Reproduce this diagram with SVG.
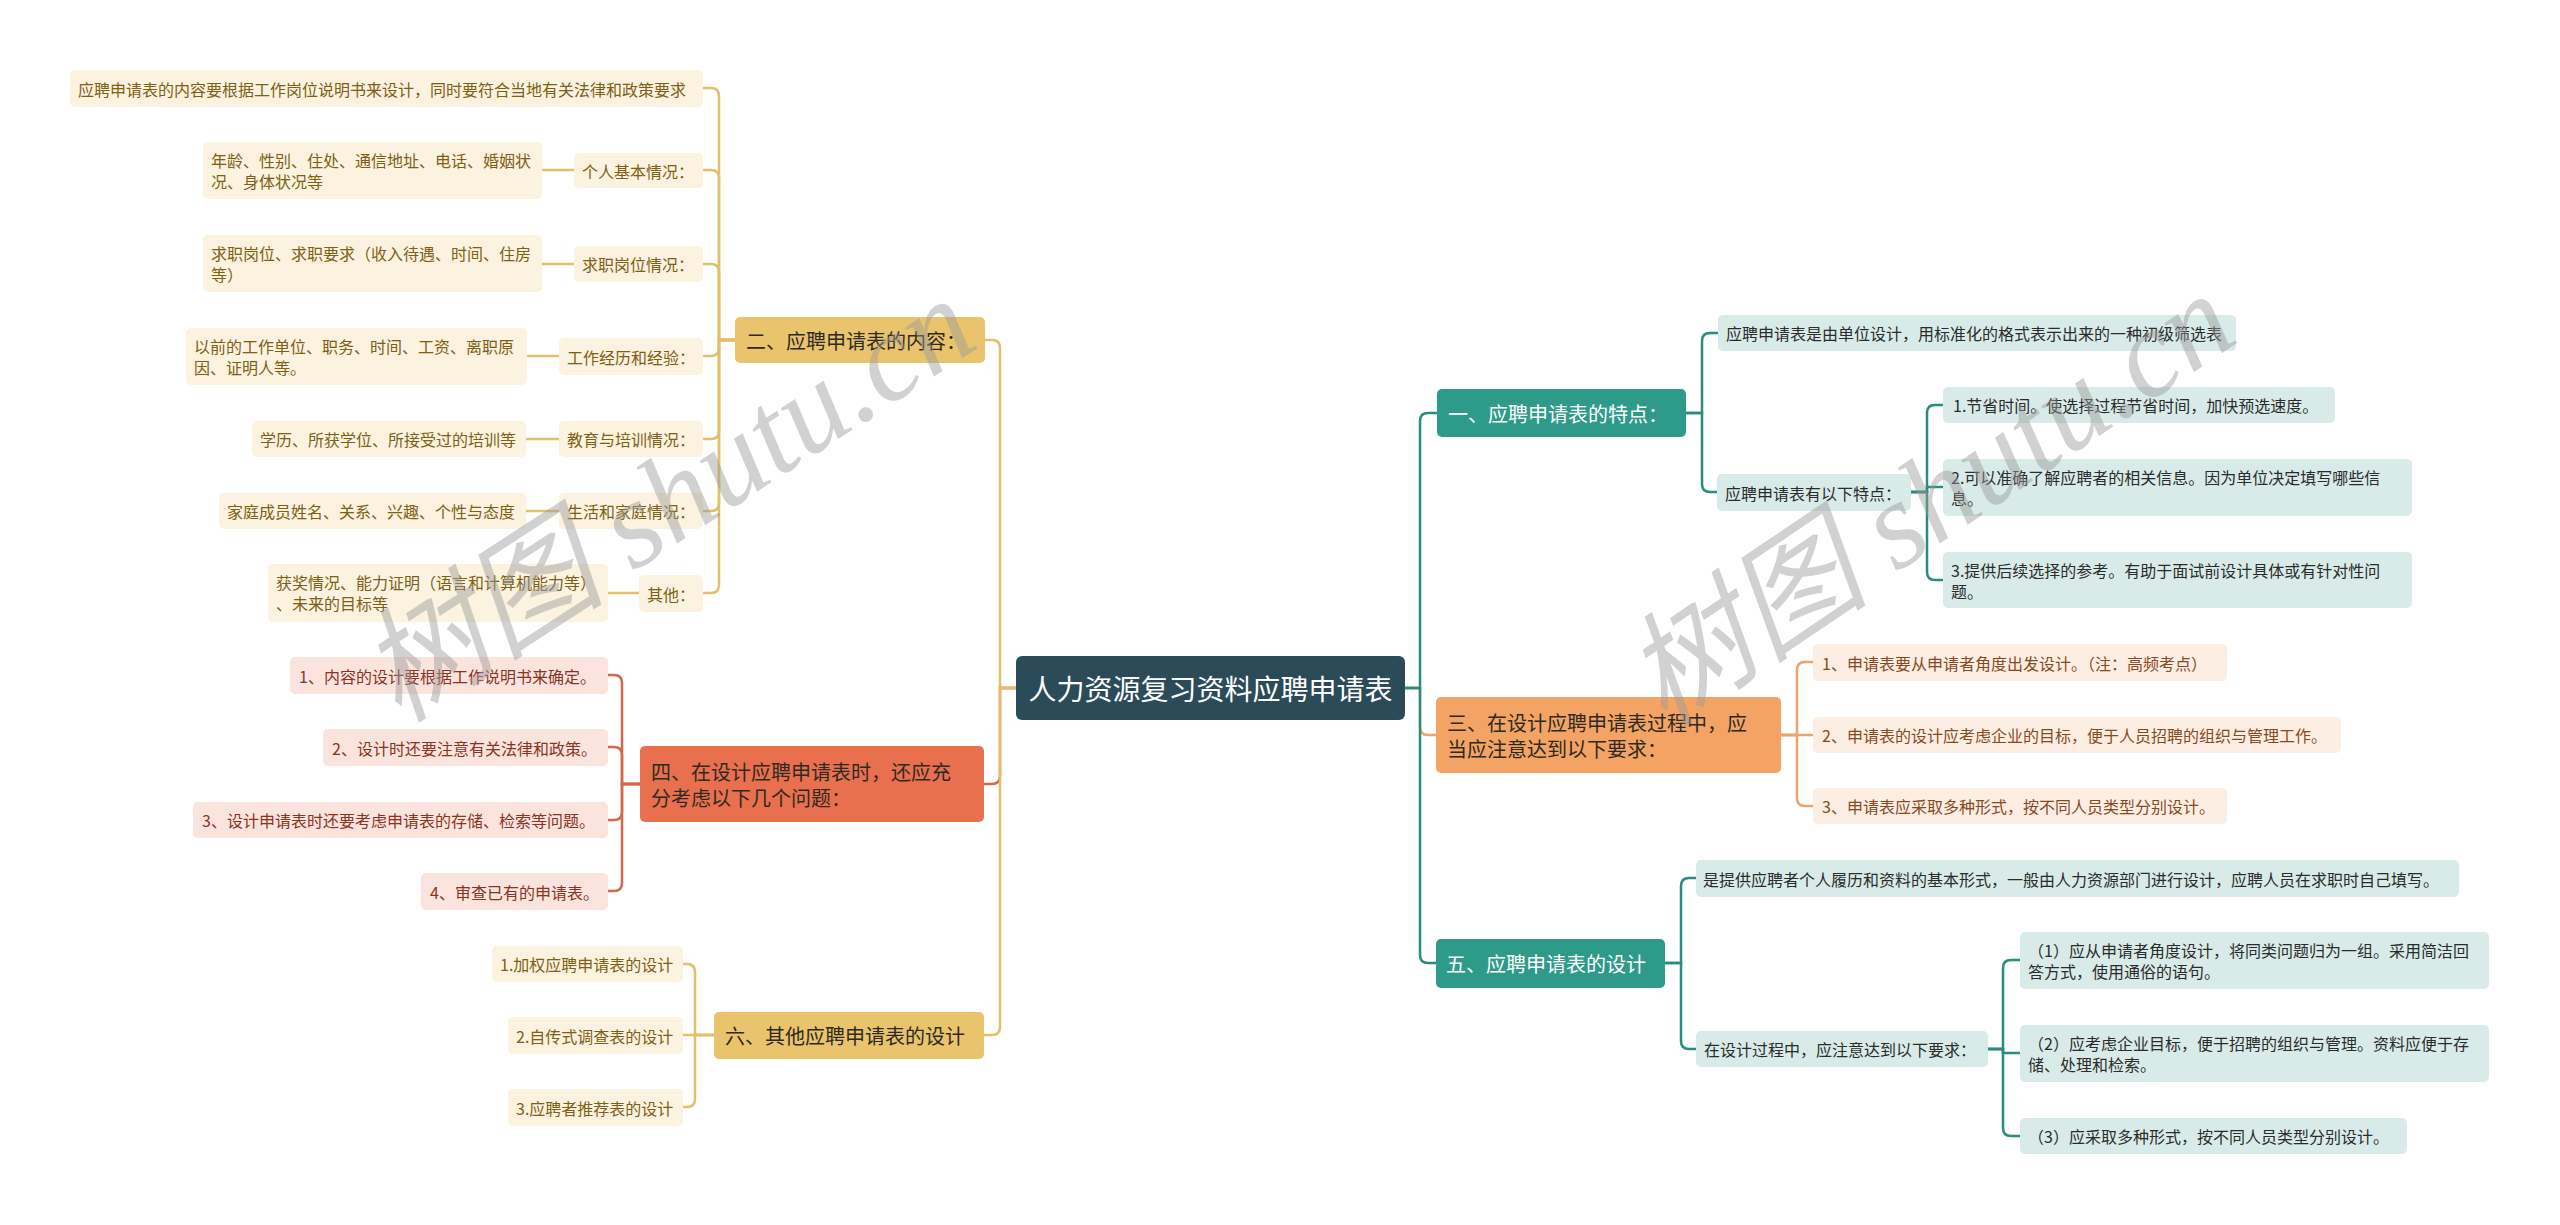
<svg xmlns="http://www.w3.org/2000/svg" width="2560" height="1225" viewBox="0 0 2560 1225">
<style>
text{font-family:"Noto Sans CJK SC","Noto Sans",sans-serif;dominant-baseline:central}
.l{font-size:16px}
.b{font-size:20px}
.cg{fill:#fbf3e0}.tg{fill:#7f6014}
.cr{fill:#fbe4dd}.tr{fill:#8a3424}
.co{fill:#fdeee3}.to{fill:#8a4a1e}
.ct{fill:#d8ebe8}.tt{fill:#2b2b2b}
.bg{fill:#e9c46c}.br{fill:#e8704f}.bo{fill:#f3a464}.bt{fill:#2e9b8a}
.dk{fill:#2f2a20}.wh{fill:#ffffff}
.eg,.er,.eo,.et{fill:none;stroke-width:2.5;stroke-linecap:round}
.eg{stroke:#e2bf69}.er{stroke:#d2694a}.eo{stroke:#e9a56e}.et{stroke:#2a8c7c}
.wm{font-family:"Liberation Serif","Noto Sans CJK SC",serif;font-style:italic;font-size:124px;fill:#9a9a9a;opacity:0.45}
</style>
<rect width="2560" height="1225" fill="#ffffff"/>
<g id="connectors">
<path class="eg" d="M1016 688 H1000 V348 Q1000 340 992 340 H985"/>
<path class="er" d="M1016 688 H1000 V776 Q1000 784 992 784 H984"/>
<path class="eg" d="M1016 688 H1000 V1027 Q1000 1035 992 1035 H984"/>
<path class="eg" d="M735 340 H719 V96 Q719 88 711 88 H703"/>
<path class="eg" d="M735 340 H719 V178 Q719 170 711 170 H703"/>
<path class="eg" d="M735 340 H719 V272 Q719 264 711 264 H703"/>
<path class="eg" d="M735 340 H719 V348 Q719 356 711 356 H703"/>
<path class="eg" d="M735 340 H719 V431 Q719 439 711 439 H703"/>
<path class="eg" d="M735 340 H719 V503 Q719 511 711 511 H703"/>
<path class="eg" d="M735 340 H719 V585 Q719 593 711 593 H703"/>
<path class="eg" d="M542 170 H574"/>
<path class="eg" d="M542 264 H574"/>
<path class="eg" d="M527 356 H559"/>
<path class="eg" d="M526 439 H559"/>
<path class="eg" d="M526 511 H559"/>
<path class="eg" d="M608 593 H639"/>
<path class="er" d="M640 784 H622 V683 Q622 675 614 675 H608"/>
<path class="er" d="M640 784 H622 V755 Q622 747 614 747 H608"/>
<path class="er" d="M640 784 H622 V812 Q622 820 614 820 H608"/>
<path class="er" d="M640 784 H622 V883 Q622 891 614 891 H608"/>
<path class="eg" d="M714 1035 H695 V972 Q695 964 687 964 H683"/>
<path class="eg" d="M714 1035 H683"/>
<path class="eg" d="M714 1035 H695 V1099 Q695 1107 687 1107 H683"/>
<path class="et" d="M1405 688 H1420 V421 Q1420 413 1428 413 H1437"/>
<path class="eo" d="M1405 688 H1420 V727 Q1420 735 1428 735 H1436"/>
<path class="et" d="M1405 688 H1420 V955 Q1420 963 1428 963 H1436"/>
<path class="et" d="M1686 413 H1702 V341 Q1702 333 1710 333 H1718"/>
<path class="et" d="M1686 413 H1702 V484 Q1702 492 1710 492 H1717"/>
<path class="et" d="M1911 492 H1927 V413 Q1927 405 1935 405 H1943"/>
<path class="et" d="M1911 492 H1927 V487 H1943"/>
<path class="et" d="M1911 492 H1927 V572 Q1927 580 1935 580 H1943"/>
<path class="eo" d="M1781 735 H1797 V670 Q1797 662 1805 662 H1813"/>
<path class="eo" d="M1781 735 H1813"/>
<path class="eo" d="M1781 735 H1797 V798 Q1797 806 1805 806 H1813"/>
<path class="et" d="M1665 963 H1681 V886 Q1681 878 1689 878 H1696"/>
<path class="et" d="M1665 963 H1681 V1041 Q1681 1049 1689 1049 H1696"/>
<path class="et" d="M1988 1049 H2003 V968 Q2003 960 2011 960 H2020"/>
<path class="et" d="M1988 1049 H2003 V1053 H2020"/>
<path class="et" d="M1988 1049 H2003 V1128 Q2003 1136 2011 1136 H2020"/>
</g>
<g id="root"><rect x="1016" y="656" width="389" height="64" rx="6" fill="#2b4b59"/><text x="1210.5" y="688" text-anchor="middle" font-size="28" class="wh">人力资源复习资料应聘申请表</text></g>
<g id="n2"><rect class="bg" x="735" y="317" width="250" height="46" rx="5"/><text class="b dk" x="746" y="340">二、应聘申请表的内容：</text></g>
<g id="n2a"><rect class="cg" x="70" y="70" width="633" height="37" rx="5"/><text class="l tg" x="78" y="88.5">应聘申请表的内容要根据工作岗位说明书来设计，同时要符合当地有关法律和政策要求</text></g>
<g id="n2b"><rect class="cg" x="574" y="153" width="129" height="35" rx="5"/><text class="l tg" x="582" y="170.5">个人基本情况：</text></g>
<g id="n2b1"><rect class="cg" x="203" y="142" width="339" height="57" rx="5"/><text class="l tg" x="211" y="160">年龄、性别、住处、通信地址、电话、婚姻状</text><text class="l tg" x="211" y="181">况、身体状况等</text></g>
<g id="n2c"><rect class="cg" x="574" y="246" width="129" height="36" rx="5"/><text class="l tg" x="582" y="264">求职岗位情况：</text></g>
<g id="n2c1"><rect class="cg" x="203" y="235" width="339" height="57" rx="5"/><text class="l tg" x="211" y="253">求职岗位、求职要求（收入待遇、时间、住房</text><text class="l tg" x="211" y="274">等）</text></g>
<g id="n2d"><rect class="cg" x="559" y="338" width="144" height="37" rx="5"/><text class="l tg" x="567" y="356.5">工作经历和经验：</text></g>
<g id="n2d1"><rect class="cg" x="186" y="328" width="341" height="57" rx="5"/><text class="l tg" x="194" y="346">以前的工作单位、职务、时间、工资、离职原</text><text class="l tg" x="194" y="367">因、证明人等。</text></g>
<g id="n2e"><rect class="cg" x="559" y="421" width="144" height="36" rx="5"/><text class="l tg" x="567" y="439">教育与培训情况：</text></g>
<g id="n2e1"><rect class="cg" x="252" y="421" width="274" height="36" rx="5"/><text class="l tg" x="260" y="439">学历、所获学位、所接受过的培训等</text></g>
<g id="n2f"><rect class="cg" x="559" y="493" width="144" height="36" rx="5"/><text class="l tg" x="567" y="511">生活和家庭情况：</text></g>
<g id="n2f1"><rect class="cg" x="219" y="493" width="307" height="36" rx="5"/><text class="l tg" x="227" y="511">家庭成员姓名、关系、兴趣、个性与态度</text></g>
<g id="n2g"><rect class="cg" x="639" y="575" width="64" height="37" rx="5"/><text class="l tg" x="647" y="593.5">其他：</text></g>
<g id="n2g1"><rect class="cg" x="268" y="564" width="340" height="58" rx="5"/><text class="l tg" x="276" y="582">获奖情况、能力证明（语言和计算机能力等）</text><text class="l tg" x="276" y="603">、未来的目标等</text></g>
<g id="n4"><rect class="br" x="640" y="746" width="344" height="76" rx="5"/><text class="b dk" x="651" y="771">四、在设计应聘申请表时，还应充</text><text class="b dk" x="651" y="797">分考虑以下几个问题：</text></g>
<g id="n4a"><rect class="cr" x="290" y="657" width="318" height="37" rx="5"/><text class="l tr" x="299" y="675.5">1、内容的设计要根据工作说明书来确定。</text></g>
<g id="n4b"><rect class="cr" x="323" y="729" width="285" height="37" rx="5"/><text class="l tr" x="332" y="747.5">2、设计时还要注意有关法律和政策。</text></g>
<g id="n4c"><rect class="cr" x="193" y="802" width="415" height="36" rx="5"/><text class="l tr" x="202" y="820">3、设计申请表时还要考虑申请表的存储、检索等问题。</text></g>
<g id="n4d"><rect class="cr" x="421" y="873" width="187" height="37" rx="5"/><text class="l tr" x="430" y="891.5">4、审查已有的申请表。</text></g>
<g id="n6"><rect class="bg" x="714" y="1012" width="270" height="47" rx="5"/><text class="b dk" x="725" y="1035.5">六、其他应聘申请表的设计</text></g>
<g id="n6a"><rect class="cg" x="492" y="946" width="191" height="36" rx="5"/><text class="l tg" x="500" y="964">1.加权应聘申请表的设计</text></g>
<g id="n6b"><rect class="cg" x="508" y="1017" width="175" height="37" rx="5"/><text class="l tg" x="516" y="1035.5">2.自传式调查表的设计</text></g>
<g id="n6c"><rect class="cg" x="508" y="1089" width="175" height="37" rx="5"/><text class="l tg" x="516" y="1107.5">3.应聘者推荐表的设计</text></g>
<g id="n1"><rect class="bt" x="1437" y="389" width="249" height="48" rx="5"/><text class="b wh" x="1448" y="413">一、应聘申请表的特点：</text></g>
<g id="n1a"><rect class="ct" x="1718" y="315" width="518" height="36" rx="5"/><text class="l tt" x="1726" y="333">应聘申请表是由单位设计，用标准化的格式表示出来的一种初级筛选表</text></g>
<g id="n1b"><rect class="ct" x="1717" y="474" width="194" height="37" rx="5"/><text class="l tt" x="1725" y="492.5">应聘申请表有以下特点：</text></g>
<g id="n1b1"><rect class="ct" x="1943" y="387" width="392" height="36" rx="5"/><text class="l tt" x="1953" y="405">1.节省时间。使选择过程节省时间，加快预选速度。</text></g>
<g id="n1b2"><rect class="ct" x="1943" y="459" width="469" height="57" rx="5"/><text class="l tt" x="1951" y="477">2.可以准确了解应聘者的相关信息。因为单位决定填写哪些信</text><text class="l tt" x="1951" y="498">息。</text></g>
<g id="n1b3"><rect class="ct" x="1943" y="552" width="469" height="56" rx="5"/><text class="l tt" x="1951" y="570">3.提供后续选择的参考。有助于面试前设计具体或有针对性问</text><text class="l tt" x="1951" y="591">题。</text></g>
<g id="n3"><rect class="bo" x="1436" y="697" width="345" height="76" rx="5"/><text class="b dk" x="1447" y="722">三、在设计应聘申请表过程中，应</text><text class="b dk" x="1447" y="748">当应注意达到以下要求：</text></g>
<g id="n3a"><rect class="co" x="1813" y="644" width="414" height="37" rx="5"/><text class="l to" x="1822" y="662.5">1、申请表要从申请者角度出发设计。（注：高频考点）</text></g>
<g id="n3b"><rect class="co" x="1813" y="717" width="528" height="36" rx="5"/><text class="l to" x="1822" y="735">2、申请表的设计应考虑企业的目标，便于人员招聘的组织与管理工作。</text></g>
<g id="n3c"><rect class="co" x="1813" y="788" width="414" height="36" rx="5"/><text class="l to" x="1822" y="806">3、申请表应采取多种形式，按不同人员类型分别设计。</text></g>
<g id="n5"><rect class="bt" x="1436" y="939" width="229" height="49" rx="5"/><text class="b wh" x="1446" y="963.5">五、应聘申请表的设计</text></g>
<g id="n5a"><rect class="ct" x="1696" y="860" width="763" height="37" rx="5"/><text class="l tt" x="1703" y="878.5">是提供应聘者个人履历和资料的基本形式，一般由人力资源部门进行设计，应聘人员在求职时自己填写。</text></g>
<g id="n5b"><rect class="ct" x="1696" y="1031" width="292" height="36" rx="5"/><text class="l tt" x="1704" y="1049">在设计过程中，应注意达到以下要求：</text></g>
<g id="n5b1"><rect class="ct" x="2020" y="932" width="469" height="57" rx="5"/><text class="l tt" x="2028" y="950">（1）应从申请者角度设计，将同类问题归为一组。采用简洁回</text><text class="l tt" x="2028" y="971">答方式，使用通俗的语句。</text></g>
<g id="n5b2"><rect class="ct" x="2020" y="1025" width="469" height="57" rx="5"/><text class="l tt" x="2028" y="1043">（2）应考虑企业目标，便于招聘的组织与管理。资料应便于存</text><text class="l tt" x="2028" y="1064">储、处理和检索。</text></g>
<g id="n5b3"><rect class="ct" x="2020" y="1118" width="387" height="36" rx="5"/><text class="l tt" x="2028" y="1136">（3）应采取多种形式，按不同人员类型分别设计。</text></g>
<g id="watermark">
<text class="wm" x="668" y="500" text-anchor="middle" transform="rotate(-33 668 500)">树图 shutu.cn</text>
<text class="wm" x="1930" y="500" text-anchor="middle" transform="rotate(-34 1930 500)">树图 shutu.cn</text>
</g>
</svg>
